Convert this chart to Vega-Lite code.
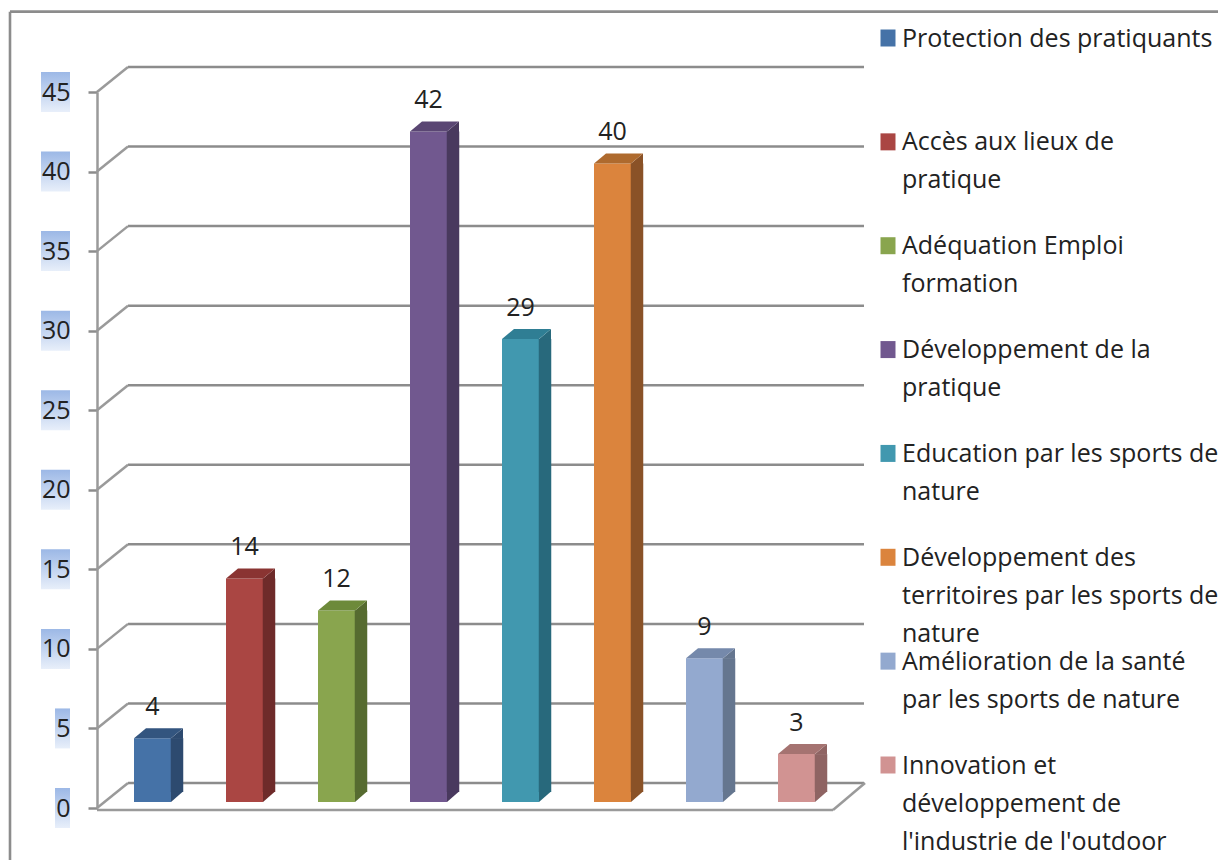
{
"$schema":"https://vega.github.io/schema/vega-lite/v6.json",
"width":736,"height":716,
"autosize":{"type":"none"},
"padding":{"left":97,"top":92,"right":385,"bottom":52},
"background":"#ffffff",
"config":{"view":{"stroke":null},"font":"Open Sans"},
"datasets":{
"themes":[
{"theme":"Protection des pratiquants","value":4,"label":"Protection des pratiquants"},
{"theme":"Accès aux lieux de pratique","value":14,"label":"Accès aux lieux de\npratique"},
{"theme":"Adéquation Emploi formation","value":12,"label":"Adéquation Emploi\nformation"},
{"theme":"Développement de la pratique","value":42,"label":"Développement de la\npratique"},
{"theme":"Education par les sports de nature","value":29,"label":"Education par les sports de\nnature"},
{"theme":"Développement des territoires par les sports de nature","value":40,"label":"Développement des\nterritoires par les sports de\nnature"},
{"theme":"Amélioration de la santé par les sports de nature","value":9,"label":"Amélioration de la santé\npar les sports de nature"},
{"theme":"Innovation et développement de l'industrie de l'outdoor","value":3,"label":"Innovation et\ndéveloppement de\nl'industrie de l'outdoor"}
],
"ticks":[{"tick":0},{"tick":5},{"tick":10},{"tick":15},{"tick":20},{"tick":25},{"tick":30},{"tick":35},{"tick":40},{"tick":45}]
},
"layer":[
{
"data":{"name":"ticks"},
"encoding":{
"y":{"field":"tick","type":"quantitative","scale":{"domain":[0,45],"nice":false,"padding":0},
"axis":{"title":null,"grid":false,"values":[0,5,10,15,20,25,30,35,40,45],"domainColor":"#9a9a9a","domainWidth":2.5,"tickColor":"#8c8c8c","tickWidth":2.5,"tickSize":9,"labelFontSize":25,"labelColor":"#222222","labelPadding":18,"labelFont":"Open Sans","zindex":1,"labelOverlap":false}}
},
"layer":[
{"transform":[{"filter":"datum.tick>=10"}],
"mark":{"type":"bar","orient":"horizontal","size":40,"color":{"gradient":"linear","x1":0,"y1":0,"x2":0,"y2":1,"stops":[{"offset":0,"color":"#9cb8e6"},{"offset":1,"color":"#e8effa"}]}},
"encoding":{"x":{"datum":-56,"type":"quantitative","scale":{"domain":[0,736],"nice":false,"zero":false},"axis":null},"x2":{"datum":-27}}},
{"transform":[{"filter":"datum.tick<10"}],
"mark":{"type":"bar","orient":"horizontal","size":40,"color":{"gradient":"linear","x1":0,"y1":0,"x2":0,"y2":1,"stops":[{"offset":0,"color":"#9cb8e6"},{"offset":1,"color":"#e8effa"}]}},
"encoding":{"x":{"datum":-42,"type":"quantitative"},"x2":{"datum":-27}}},
{"mark":{"type":"rule","color":"#8c8c8c","strokeWidth":2.5,"yOffset":-25},
"encoding":{"x":{"datum":31,"type":"quantitative"},"x2":{"datum":767}}},
{"mark":{"type":"point","shape":"M0 0L31 -25","size":4,"filled":false,"stroke":"#9a9a9a","strokeWidth":2.5,"opacity":1},
"encoding":{"x":{"datum":0,"type":"quantitative"}}},
{"transform":[{"filter":"datum.tick==0"}],
"mark":{"type":"rule","color":"#9a9a9a","strokeWidth":2.5,"yOffset":2},
"encoding":{"x":{"datum":0,"type":"quantitative"},"x2":{"datum":736}}},
{"transform":[{"filter":"datum.tick==0"}],
"mark":{"type":"point","shape":"M0 2L32 -25","size":4,"filled":false,"stroke":"#9a9a9a","strokeWidth":2.5,"opacity":1},
"encoding":{"x":{"datum":736,"type":"quantitative"}}},
{"transform":[{"filter":"datum.tick==0"}],
"mark":{"type":"rule","color":"#8c8c8c","strokeWidth":2.6},
"encoding":{"x":{"datum":-87,"type":"quantitative"},"x2":{"datum":1121},"y":{"datum":50.05,"type":"quantitative"}}},
{"transform":[{"filter":"datum.tick==0"}],
"mark":{"type":"rule","color":"#8c8c8c","strokeWidth":2.6},
"encoding":{"x":{"datum":-87,"type":"quantitative"},"y":{"datum":50.05,"type":"quantitative"},"y2":{"datum":-4}}}
]
},
{
"data":{"name":"themes"},
"encoding":{
"x":{"field":"theme","type":"nominal","sort":null,"axis":null,"scale":{"paddingInner":0,"paddingOuter":0}},
"y":{"field":"value","type":"quantitative","axis":null,"scale":{"domain":[0,44.85],"nice":false}}
},
"layer":[
{"mark":{"type":"bar","size":37,"xOffset":9.5,"yOffset":-6,"y2Offset":-6},
"encoding":{"y2":{"datum":0},
"color":{"field":"theme","type":"nominal","sort":null,"legend":null,"scale":{"domain":["Protection des pratiquants","Accès aux lieux de pratique","Adéquation Emploi formation","Développement de la pratique","Education par les sports de nature","Développement des territoires par les sports de nature","Amélioration de la santé par les sports de nature","Innovation et développement de l'industrie de l'outdoor"],"range":["#4572a7","#aa4643","#89a54e","#71588f","#4198af","#db843d","#93a9cf","#d19392"]}}}},
{"encoding":{"color":{"field":"theme","type":"nominal","sort":null,"legend":null,"scale":{"domain":["Protection des pratiquants","Accès aux lieux de pratique","Adéquation Emploi formation","Développement de la pratique","Education par les sports de nature","Développement des territoires par les sports de nature","Amélioration de la santé par les sports de nature","Innovation et développement de l'industrie de l'outdoor"],"range":["#2d4a6f","#6e2b2a","#566b30","#49395e","#28697c","#8a5227","#65768f","#8f6463"]}}},
"layer":[
{"mark":{"type":"bar","size":12.5,"xOffset":34,"yOffset":-6,"y2Offset":-16},"encoding":{"y2":{"datum":0}}},
{"mark":{"type":"point","shape":"M18 0.5L30.5 -10L30.5 0.5Z","size":4,"filled":true,"opacity":1,"xOffset":9.5,"yOffset":-6}},
{"mark":{"type":"point","shape":"M18.5 -10.5L30.5 -10.5L18.5 0Z","size":4,"filled":true,"opacity":1,"xOffset":9.5,"yOffset":-6},"encoding":{"y":{"datum":0,"type":"quantitative"}}}
]},
{"mark":{"type":"point","shape":"M-18.5 0L18.5 0L30.5 -10L-6.5 -10Z","size":4,"filled":true,"opacity":1,"xOffset":9.5,"yOffset":-6},
"encoding":{"color":{"field":"theme","type":"nominal","sort":null,"legend":null,"scale":{"domain":["Protection des pratiquants","Accès aux lieux de pratique","Adéquation Emploi formation","Développement de la pratique","Education par les sports de nature","Développement des territoires par les sports de nature","Amélioration de la santé par les sports de nature","Innovation et développement de l'industrie de l'outdoor"],"range":["#33557f","#8a3432","#6d8a3a","#5a4673","#2f7e94","#ae6a2e","#7589ab","#a57371"]}}}},
{"mark":{"type":"text","fontSize":25,"color":"#222222","font":"Open Sans","baseline":"alphabetic","align":"center","xOffset":9.5,"yOffset":-29},
"encoding":{"text":{"field":"value","type":"quantitative"}}}
],
"resolve":{"scale":{"color":"independent"}}
},
{
"data":{"name":"themes"},
"encoding":{
"x":{"datum":791,"type":"quantitative","axis":null,"scale":{"domain":[0,736],"nice":false,"zero":false}},
"y":{"field":"theme","type":"nominal","sort":null,"axis":null,"scale":{"type":"point","padding":0,"range":[-54,673]}}
},
"layer":[
{"mark":{"type":"point","shape":"M-7.5 -8.5H7.5V8.5H-7.5Z","size":4,"filled":true,"opacity":1},
"encoding":{"color":{"field":"theme","type":"nominal","sort":null,"legend":null,"scale":{"domain":["Protection des pratiquants","Accès aux lieux de pratique","Adéquation Emploi formation","Développement de la pratique","Education par les sports de nature","Développement des territoires par les sports de nature","Amélioration de la santé par les sports de nature","Innovation et développement de l'industrie de l'outdoor"],"range":["#4572a7","#aa4643","#89a54e","#71588f","#4198af","#db843d","#93a9cf","#d19392"]}}}},
{"mark":{"type":"text","fontSize":25,"color":"#222222","font":"Open Sans","align":"left","baseline":"alphabetic","lineBreak":"\n","lineHeight":38,"xOffset":14,"yOffset":8.5},
"encoding":{"text":{"field":"label","type":"nominal"}}}
]
}
],
"resolve":{"scale":{"x":"independent","y":"independent","color":"independent"}}
}
